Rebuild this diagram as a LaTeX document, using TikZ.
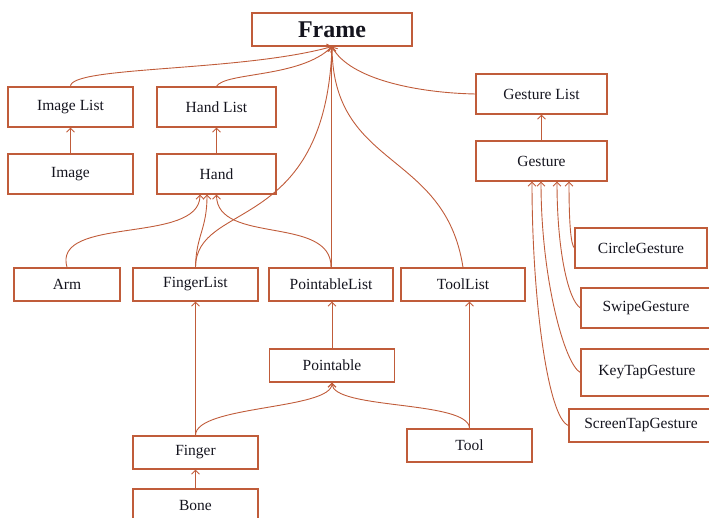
\documentclass[tikz,border=0pt]{standalone}
\usepackage{fontspec}
\setmainfont{Liberation Serif}
\usetikzlibrary{arrows.meta}
\definecolor{brn}{RGB}{192,92,58}
\definecolor{txt}{RGB}{20,20,30}
\tikzset{
  box/.style={draw=brn, line width=1.2pt, inner sep=0pt, text=txt, font=\fontsize{15.5}{18}\selectfont},
  con/.style={draw=brn, line width=0.9pt},
  arr/.style={con, -{Straight Barb[length=4pt,width=8pt]}},
}
\begin{document}
\begin{tikzpicture}[x=1pt,y=-1pt]
\useasboundingbox (0,0) rectangle (709,518);
\clip (0,0) rectangle (709,518);
% nodes
\node[box, minimum width=160pt, minimum height=33pt, font=\fontsize{24}{28}\selectfont\bfseries] (frame) at (332,29.5) {Frame};
\node[box, minimum width=125pt, minimum height=40pt] (imglist) at (70.5,107) {Image List};
\node[box, minimum width=119pt, minimum height=40pt] (handlist) at (216.5,107) {Hand List};
\node[box, minimum width=125pt, minimum height=40pt] (image) at (70.5,174) {Image};
\node[box, minimum width=119pt, minimum height=40pt] (hand) at (216.5,174) {Hand};
\node[box, minimum width=131pt, minimum height=40pt] (gestlist) at (541.5,94) {Gesture List};
\node[box, minimum width=131pt, minimum height=40pt] (gesture) at (541.5,161) {Gesture};
\node[box, minimum width=106pt, minimum height=33pt] (arm) at (67,284.5) {Arm};
\node[box, minimum width=125pt, minimum height=33pt] (fingerlist) at (195.5,284.5) {FingerList};
\node[box, minimum width=124pt, minimum height=33pt] (pointlist) at (331,284.5) {PointableList};
\node[box, minimum width=124pt, minimum height=33pt] (toollist) at (463,284.5) {ToolList};
\node[box, minimum width=132pt, minimum height=40pt] (circle) at (641,248) {CircleGesture};
\node[box, minimum width=130pt, minimum height=40pt] (swipe) at (646,308) {SwipeGesture};
\node[box, minimum width=132pt, minimum height=47pt] (keytap) at (647,372.5) {KeyTapGesture};
\node[box, minimum width=144pt, minimum height=33pt] (screentap) at (641,425.5) {ScreenTapGesture};
\node[box, minimum width=125pt, minimum height=33pt] (pointable) at (332,365.5) {Pointable};
\node[box, minimum width=125pt, minimum height=33pt] (finger) at (195.5,452.5) {Finger};
\node[box, minimum width=125pt, minimum height=33pt] (tool) at (469.5,445.5) {Tool};
\node[box, minimum width=125pt, minimum height=33pt] (bone) at (195.5,505.5) {Bone};
% straight arrows
\draw[arr] (image) -- (imglist);
\draw[arr] (hand) -- (handlist);
\draw[arr] (gesture) -- (gestlist);
\draw[arr] (pointable.north) -- (pointable.north |- pointlist.south);
\draw[arr] (tool.north) -- (tool.north |- toollist.south);
\draw[arr] (finger) -- (fingerlist);
\draw[arr] (bone) -- (finger);
% to Frame
\draw[arr] (imglist.north) .. controls (70,66) and (240,72) .. (frame.south);
\draw[arr] (handlist.north) .. controls (225,72) and (300,78) .. (frame.south);
\draw[arr] (gestlist.west) .. controls (420,93) and (350,80) .. (frame.south);
\draw[arr] (fingerlist.north) .. controls (196,200) and (325,235) .. (frame.south);
\draw[arr] (pointlist.north) -- (pointlist.north |- frame.south);
\draw[arr] (toollist.north) .. controls (445,150) and (333,170) .. (frame.south);
% to Hand
\draw[arr] (arm.north) .. controls (52,215) and (200,245) .. ([xshift=-16.5pt]hand.south);
\draw[arr] (fingerlist.north) .. controls (196,235) and (207,230) .. ([xshift=-9.5pt]hand.south);
\draw[arr] (pointlist.north) .. controls (332,215) and (217,245) .. (hand.south);
% to Pointable
\draw[arr] (finger.north) .. controls (195.5,405) and (332,410) .. (pointable.south);
\draw[arr] (tool.north) .. controls (469,400) and (332,410) .. (pointable.south);
% to Gesture
\draw[arr] (screentap.west) .. controls (548,418) and (532,300) .. ([xshift=-9.5pt]gesture.south);
\draw[arr] (keytap.west) .. controls (565,365) and (541,280) .. ([xshift=-0.5pt]gesture.south);
\draw[arr] (swipe.west) .. controls (568,300) and (557,250) .. ([xshift=15.5pt]gesture.south);
\draw[arr] (circle.west) .. controls (571,245) and (569,225) .. ([xshift=27.5pt]gesture.south);
\end{tikzpicture}
\end{document}
